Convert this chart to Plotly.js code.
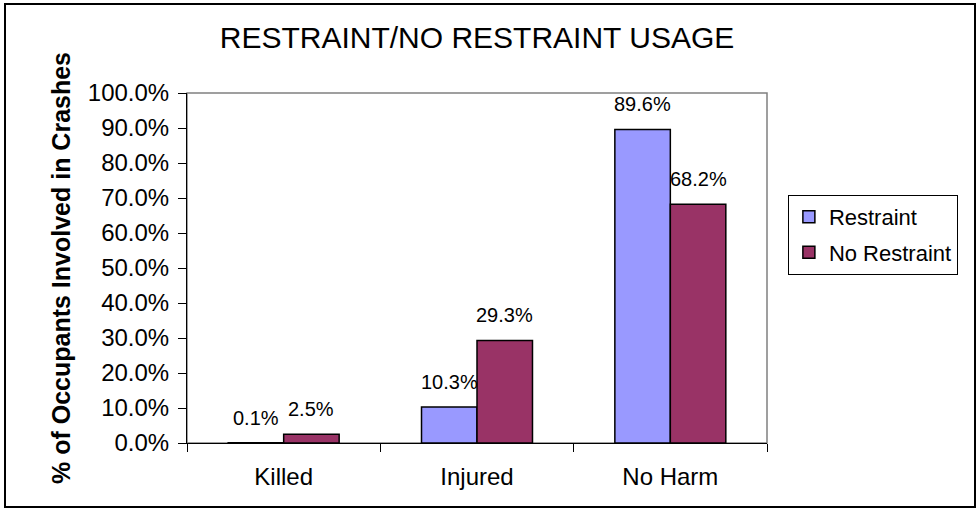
<!DOCTYPE html>
<html>
<head>
<meta charset="utf-8">
<script src="https://cdn.plot.ly/plotly-3.0.1.min.js"></script>
<style>
  html, body { margin: 0; padding: 0; background: #fff; }
  #chart { width: 979px; height: 508px; }
</style>
</head>
<body>
<div id="chart"></div>
<script>
// ---- data ----
const categories = ["Killed", "Injured", "No Harm"];
const restraintValues = [0.1, 10.3, 89.6];
const noRestraintValues = [2.5, 29.3, 68.2];
const seriesNames = ["Restraint", "No Restraint"];
const yTickValues = [0, 10, 20, 30, 40, 50, 60, 70, 80, 90, 100];

const FONT = "Arial, 'Liberation Sans', sans-serif";
const colors = ["#9999FF", "#993366"];
const allSeries = [restraintValues, noRestraintValues];

const traces = allSeries.map((vals, i) => ({
  type: "bar",
  name: seriesNames[i],
  x: categories,
  y: vals,
  legendgroup: "g" + i,
  marker: { color: colors[i], line: { color: "#000000", width: 1.5 } },
  hoverinfo: "x+y+name"
}));

// data labels as annotations, positioned via the category axis scale
const barHalf = 0.1435; // half of a bar width in category units (style)
const annotations = [];
allSeries.forEach((vals, s) => {
  vals.forEach((v, i) => {
    annotations.push({
      x: i + (s === 0 ? -barHalf : barHalf),
      y: v,
      xref: "x", yref: "y",
      text: v.toFixed(1) + "%",
      showarrow: false,
      yanchor: "middle",
      yshift: 25,
      font: { family: FONT, size: 20, color: "#000" }
    });
  });
});

const layout = {
  width: 979,
  height: 508,
  margin: { l: 187, r: 212, t: 93, b: 65 },
  paper_bgcolor: "#ffffff",
  plot_bgcolor: "#ffffff",
  font: { family: FONT, color: "#000" },
  title: {
    text: "RESTRAINT/NO RESTRAINT USAGE",
    font: { family: FONT, size: 30, color: "#000" },
    x: 0.5, xref: "paper",
    y: 1 - 37 / 508, yref: "container", yanchor: "middle"
  },
  barmode: "group",
  bargap: 0.426,
  bargroupgap: 0,
  xaxis: {
    type: "category",
    showline: true, linecolor: "#000", linewidth: 1,
    ticks: "outside", tickson: "boundaries", ticklen: 8, tickcolor: "#000",
    tickfont: { family: FONT, size: 24, color: "#000" },
    ticklabelstandoff: 12,
    showgrid: false, zeroline: false, fixedrange: true
  },
  yaxis: {
    range: [0, 100],
    tickvals: yTickValues,
    ticktext: yTickValues.map(v => v.toFixed(1) + "%"),
    showline: true, linecolor: "#000", linewidth: 1,
    ticks: "outside", ticklen: 8, tickcolor: "#000",
    tickfont: { family: FONT, size: 24, color: "#000" },
    ticklabelstandoff: 4,
    showgrid: false, zeroline: false, fixedrange: true,
    title: {
      text: "<b>% of Occupants Involved in Crashes</b>",
      font: { family: FONT, size: 25, color: "#000" },
      standoff: 10
    }
  },
  legend: {
    x: 1.036, xanchor: "left",
    y: 0.709, yanchor: "top",
    bgcolor: "#ffffff",
    bordercolor: "#000000", borderwidth: 1,
    font: { family: FONT, size: 22, color: "#000" },
    traceorder: "grouped",
    tracegroupgap: 4
  },
  annotations: annotations,
  shapes: [
    // plot area border (gray)
    { type: "rect", xref: "paper", yref: "paper", x0: 0, x1: 1, y0: 0, y1: 1,
      line: { color: "#808080", width: 1.5 }, layer: "below" },
    // outer chart frame
    { type: "rect", xref: "paper", yref: "paper",
      x0: -182 / 580, x1: 788 / 580, y0: -64 / 350, y1: 439 / 350,
      line: { color: "#000000", width: 2 }, layer: "below" }
  ],
  showlegend: true
};

Plotly.newPlot("chart", traces, layout, { displayModeBar: false, staticPlot: true });
</script>
</body>
</html>
